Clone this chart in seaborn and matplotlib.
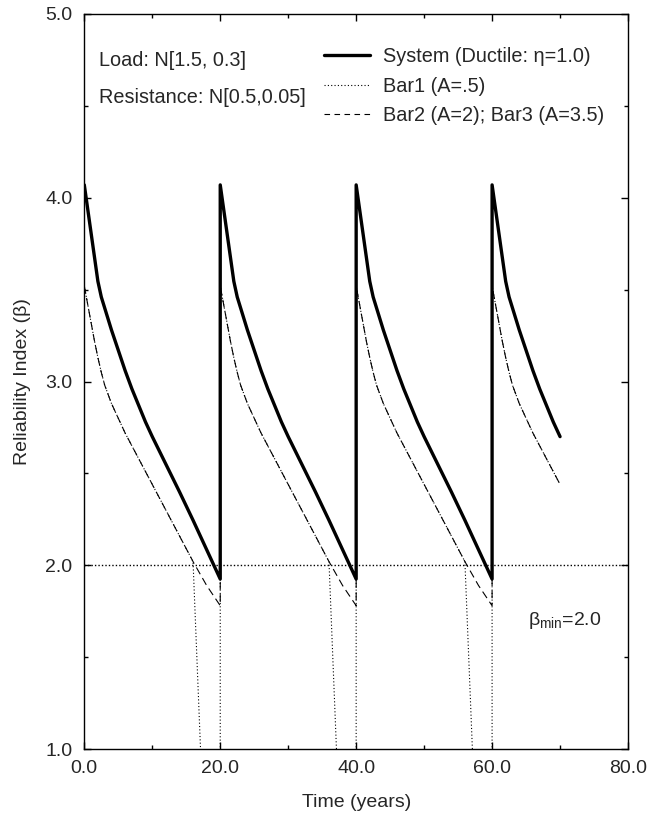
import matplotlib
matplotlib.use("Agg")
import matplotlib.pyplot as plt
import pandas as pd
import seaborn as sns
from matplotlib.ticker import MultipleLocator, FormatStrFormatter
from matplotlib.lines import Line2D

# ---- data ----
cycle_starts = [0, 20, 40, 60]
t_end = 70
tau_system = [0, 2, 2.5, 3, 4, 5, 6, 7, 8, 9, 10, 12, 14, 16, 18, 20]
beta_system = [4.07, 3.545, 3.46, 3.40, 3.28, 3.17, 3.06, 2.96, 2.87, 2.78, 2.70,
               2.55, 2.40, 2.245, 2.085, 1.925]
tau_bar23 = [0, 0.5, 1, 1.5, 2, 2.5, 3, 3.5, 4, 5, 6, 7, 8, 10, 12, 14, 16, 18, 20]
beta_bar23 = [3.52, 3.42, 3.32, 3.22, 3.13, 3.05, 2.98, 2.93, 2.88, 2.80, 2.72, 2.65,
              2.58, 2.44, 2.30, 2.16, 2.02, 1.89, 1.78]
tau_bar1 = [0, 0.5, 1, 1.5, 2, 2.5, 3, 3.5, 4, 5, 6, 7, 8, 10, 12, 14, 16, 17.1, 18, 20]
beta_bar1 = [3.52, 3.42, 3.32, 3.22, 3.13, 3.05, 2.98, 2.93, 2.88, 2.80, 2.72, 2.65,
             2.58, 2.44, 2.30, 2.16, 2.02, 1.0, 0.2, 0.2]
beta_min = 2.0
x_ticks = [0.0, 20.0, 40.0, 60.0, 80.0]
y_ticks = [1.0, 2.0, 3.0, 4.0, 5.0]
legend_labels = ["System (Ductile: η=1.0)", "Bar1 (A=.5)", "Bar2 (A=2); Bar3 (A=3.5)"]


def build(taus, betas):
    t, b = [], []
    for s in cycle_starts:
        for tau, beta in zip(taus, betas):
            if s + tau <= t_end:
                t.append(s + tau)
                b.append(beta)
    return pd.DataFrame({"t": t, "beta": b})


df_sys = build(tau_system, beta_system)
df_b23 = build(tau_bar23, beta_bar23)
df_b1 = build(tau_bar1, beta_bar1)
df_min = pd.DataFrame({"t": [x_ticks[0], x_ticks[-1]], "beta": [beta_min, beta_min]})

sns.set_style("ticks")
plt.rcParams["font.family"] = ["Liberation Sans", "DejaVu Sans"]
plt.rcParams["mathtext.fontset"] = "custom"
plt.rcParams["mathtext.rm"] = "Liberation Sans"
plt.rcParams["mathtext.it"] = "Liberation Sans"

fig = plt.figure(figsize=(6.51, 8.13), dpi=100)
ax = fig.add_axes([0.1295, 0.0787, 0.8352, 0.9041])

sns.lineplot(data=df_min, x="t", y="beta", ax=ax, color="black", lw=1.0,
             linestyle=(0, (1, 1.5)), sort=False, estimator=None)
sns.lineplot(data=df_b1, x="t", y="beta", ax=ax, color="black", lw=0.8,
             linestyle=(0, (1, 2)), sort=False, estimator=None)
sns.lineplot(data=df_b23, x="t", y="beta", ax=ax, color="black", lw=0.8,
             linestyle=(0, (7, 4)), sort=False, estimator=None)
sns.lineplot(data=df_sys, x="t", y="beta", ax=ax, color="black", lw=2.4,
             sort=False, estimator=None)

ax.set_xlim(x_ticks[0], x_ticks[-1])
ax.set_ylim(y_ticks[0], y_ticks[-1])
ax.set_xticks(x_ticks)
ax.set_yticks(y_ticks)
ax.xaxis.set_minor_locator(MultipleLocator(10))
ax.yaxis.set_minor_locator(MultipleLocator(0.5))
ax.xaxis.set_major_formatter(FormatStrFormatter("%.1f"))
ax.yaxis.set_major_formatter(FormatStrFormatter("%.1f"))
ax.tick_params(which="both", direction="in", top=True, right=True, labelsize=14,
               width=1.0, color="black")
ax.tick_params(which="major", length=5)
ax.tick_params(axis="x", which="major", pad=8)
ax.tick_params(axis="y", which="major", pad=8.5)
ax.tick_params(which="minor", length=3)
for sp in ax.spines.values():
    sp.set_visible(True)
    sp.set_linewidth(1.0)
    sp.set_color("black")

ax.set_xlabel("Time (years)", fontsize=14, labelpad=12)
ax.set_ylabel("Reliability Index (β)", fontsize=14, labelpad=10)

ax.text(0.027, 0.937, "Load: N[1.5, 0.3]", transform=ax.transAxes, fontsize=14.3,
        va="center", ha="left")
ax.text(0.027, 0.886, "Resistance: N[0.5,0.05]", transform=ax.transAxes, fontsize=14.3,
        va="center", ha="left")
ax.text(0.816, 0.1755, r"$\beta_{\mathrm{min}}$=2.0", transform=ax.transAxes,
        fontsize=14, va="center", ha="left")

handles = [
    Line2D([], [], color="black", lw=2.4),
    Line2D([], [], color="black", lw=0.8, linestyle=(0, (1, 2))),
    Line2D([], [], color="black", lw=0.8, linestyle=(0, (5, 4))),
]
ax.legend(handles, legend_labels, loc="center left", bbox_to_anchor=(0.441, 0.902),
          frameon=False, fontsize=14.3, handlelength=2.3, handletextpad=0.65,
          labelspacing=0.52, borderaxespad=0, borderpad=0)

fig.savefig("out.png", dpi=100)
